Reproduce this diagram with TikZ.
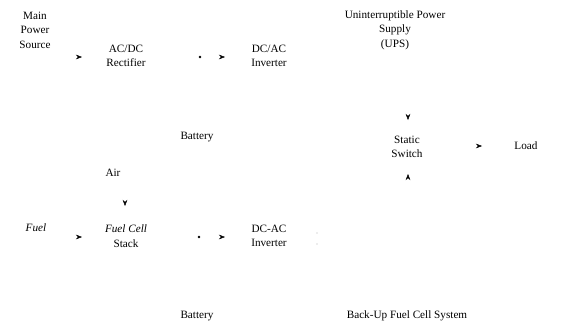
\documentclass[tikz,border=0pt]{standalone}
\usepackage{fontspec}
\setmainfont{Liberation Serif}
\usetikzlibrary{arrows.meta}
\begin{document}
\begin{tikzpicture}[x=1pt,y=-1pt,
  lbl/.style={font=\fontsize{11.2}{14.5}\selectfont, align=center, inner sep=0pt},
  conn/.style={draw=white, -{Stealth[black,length=6pt,width=4.5pt]}},
  junc/.style={circle,fill=black,inner sep=0pt,minimum size=2.6pt},
  faint/.style={circle,fill=black!30,inner sep=0pt,minimum size=1.2pt}]
\useasboundingbox (0,0) rectangle (574,327);
% upper system
\node[lbl] (main) at (35,30) {Main\\Power\\Source};
\node[lbl] (rect) at (126,56) {AC/DC\\Rectifier};
\node[lbl] (inv1) at (269,56) {DC/AC\\Inverter};
\node[lbl] (bat1) at (197,137) {Battery};
\node[lbl] (ups) at (395,30) {Uninterruptible Power\\Supply\\(UPS)};
\node[lbl] (sw) at (407,147) {Static\\Switch};
\node[lbl] (load) at (526,146) {Load};
% lower system
\node[lbl] (air) at (113,173) {Air};
\node[lbl] (fuel) at (36,228) {\itshape Fuel};
\node[lbl] (fc) at (126,236) {\itshape Fuel Cell\\Stack};
\node[lbl] (inv2) at (269,236) {DC-AC\\Inverter};
\node[lbl] (bat2) at (197,316) {Battery};
\node[lbl] (sys) at (407,316) {Back-Up Fuel Cell System};
% junction dots
\node[junc] (j1) at (200,57) {};
\node[junc] (j2) at (199,237) {};
\node[faint] (f1) at (317,233) {};
\node[faint] (f2) at (317,244) {};
% arrow tips
\coordinate (a1s) at (70,57);  \coordinate (a1) at (82,57);
\coordinate (a2s) at (212,57); \coordinate (a2) at (225,57);
\coordinate (a3s) at (408,106); \coordinate (a3) at (408,120);
\coordinate (a4s) at (408,188); \coordinate (a4) at (408,174);
\coordinate (a5s) at (468,146); \coordinate (a5) at (482,146);
\coordinate (a6s) at (125,192); \coordinate (a6) at (125,206);
\coordinate (a7s) at (70,237);  \coordinate (a7) at (82,237);
\coordinate (a8s) at (212,237); \coordinate (a8) at (225,237);
\foreach \i in {1,...,8} {\draw[conn] (a\i s) -- (a\i);}
\end{tikzpicture}
\end{document}
